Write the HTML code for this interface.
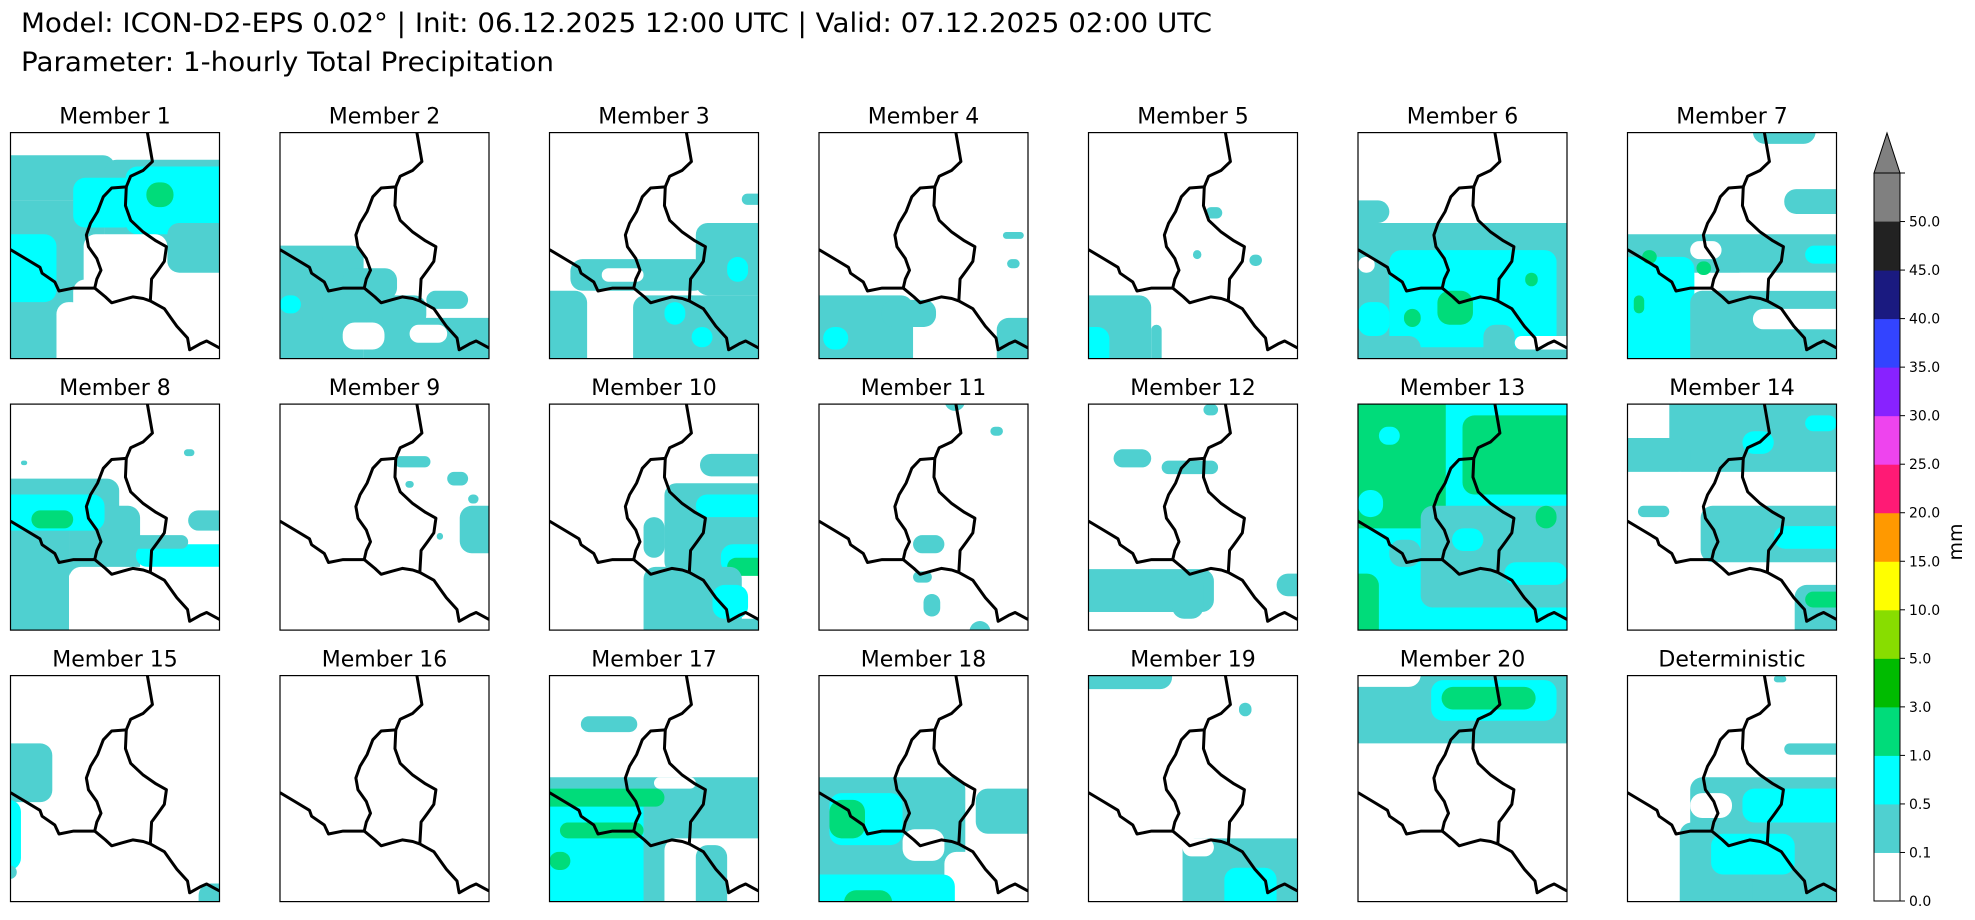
<!DOCTYPE html>
<html><head><meta charset="utf-8"><style>
html,body{margin:0;padding:0;background:#fff;}
svg{display:block;font-family:"DejaVu Sans","Liberation Sans",sans-serif;}
</style></head><body>
<svg id="fig" width="1975" height="920" viewBox="0 0 1975 920" xmlns="http://www.w3.org/2000/svg">
<text x="21" y="32" font-size="27" fill="#000" textLength="1191" lengthAdjust="spacingAndGlyphs">Model: ICON-D2-EPS 0.02° | Init: 06.12.2025 12:00 UTC | Valid: 07.12.2025 02:00 UTC</text>
<text x="21" y="71" font-size="27" fill="#000" textLength="533" lengthAdjust="spacingAndGlyphs">Parameter: 1-hourly Total Precipitation</text>
<g id="panels"></g>
<g id="cbar"></g>
</svg>
<script>
// Colorbar data
const levels = [0.0,0.1,0.5,1.0,3.0,5.0,10.0,15.0,20.0,25.0,30.0,35.0,40.0,45.0,50.0];
const levelColors = ["#ffffff","#4fd0d0","#00ffff","#00dc7a","#00bb00","#88dd00","#ffff00","#ff9900","#ff1a75","#ee44ee","#8822ff","#3344ff","#1a1a80","#222222"];
const overColor = "#808080";
const tickLabels = ["0.0","0.1","0.5","1.0","3.0","5.0","10.0","15.0","20.0","25.0","30.0","35.0","40.0","45.0","50.0"];
// Panel titles
const titles = ["Member 1","Member 2","Member 3","Member 4","Member 5","Member 6","Member 7","Member 8","Member 9","Member 10","Member 11","Member 12","Member 13","Member 14","Member 15","Member 16","Member 17","Member 18","Member 19","Member 20","Deterministic"];
// Precip patches per panel: [x0,y0,x1,y1,levelIndex] (normalized map coords; 0 = dry)
const fields = [
 [[-0.1,0.1,0.5,0.3,1],[-0.1,0.3,0.45,1.1,1],[0.45,0.12,1.1,0.5,1],[0.3,0.2,0.6,0.42,2],[0.55,0.15,1.05,0.45,2],[0.65,0.22,0.78,0.33,3],[-0.05,0.45,0.22,0.75,2],[0.75,0.4,1.1,0.62,1],[0.35,0.45,0.75,0.75,0],[0.3,0.65,1.1,1.1,0],[0.22,0.75,0.35,1.1,0]],
 [[-0.1,0.5,0.4,1.1,1],[0.3,0.6,0.56,0.74,1],[0.2,0.72,0.7,0.86,1],[0.4,0.82,1.1,1.1,1],[0.3,0.84,0.5,0.96,0],[0.62,0.85,0.8,0.93,0],[0.7,0.7,0.9,0.78,1],[0.0,0.72,0.1,0.8,2]],
 [[0.1,0.56,0.75,0.7,1],[0.7,0.4,1.1,0.72,1],[0.4,0.72,1.1,1.1,1],[-0.1,0.7,0.18,1.1,1],[0.85,0.55,0.95,0.66,2],[0.55,0.75,0.65,0.85,2],[0.68,0.86,0.78,0.95,2],[0.92,0.27,1.1,0.32,1],[0.25,0.6,0.45,0.66,0]],
 [[-0.1,0.72,0.45,1.1,1],[0.3,0.74,0.56,0.86,1],[0.85,0.82,1.1,1.1,1],[0.02,0.86,0.14,0.96,2],[0.88,0.44,0.98,0.47,1],[0.9,0.56,0.96,0.6,1],[0.6,0.82,0.85,1.1,0]],
 [[-0.1,0.72,0.3,1.1,1],[0.3,0.85,0.35,1.1,1],[-0.1,0.86,0.1,1.1,2],[0.56,0.33,0.64,0.38,1],[0.5,0.52,0.54,0.56,1],[0.77,0.54,0.83,0.59,1]],
 [[-0.1,0.4,1.1,1.1,1],[0.0,0.55,0.08,0.62,0],[0.15,0.52,0.95,0.95,2],[0.0,0.75,0.15,0.9,2],[0.38,0.7,0.55,0.85,3],[0.22,0.78,0.3,0.86,3],[0.8,0.62,0.86,0.68,3],[0.05,0.9,0.3,1.1,1],[0.6,0.85,0.75,1.1,1],[0.75,0.9,1.1,0.96,0],[-0.1,0.3,0.15,0.4,1]],
 [[0.6,-0.1,0.9,0.05,1],[0.75,0.25,1.1,0.36,1],[-0.1,0.45,1.1,0.62,1],[0.3,0.48,0.45,0.56,0],[-0.1,0.55,0.32,1.1,2],[0.3,0.7,1.1,1.1,1],[0.5,0.62,1.1,0.7,0],[0.6,0.78,1.1,0.87,0],[0.07,0.52,0.14,0.58,3],[0.33,0.57,0.4,0.63,3],[0.03,0.72,0.08,0.8,3],[0.85,0.5,1.1,0.58,2]],
 [[-0.1,0.33,0.52,0.55,1],[-0.1,0.5,0.28,1.1,1],[0.28,0.45,0.62,0.8,1],[-0.05,0.4,0.45,0.56,2],[0.1,0.47,0.3,0.55,3],[0.6,0.62,1.1,0.72,2],[0.85,0.47,1.1,0.56,1],[0.58,0.58,0.85,0.64,1],[0.28,0.72,1.1,1.1,0],[0.05,0.25,0.08,0.27,1],[0.83,0.2,0.88,0.23,1]],
 [[0.55,0.23,0.72,0.28,1],[0.8,0.3,0.9,0.36,1],[0.86,0.45,1.1,0.66,1],[0.6,0.34,0.64,0.37,1],[0.75,0.57,0.78,0.6,1],[0.9,0.4,0.95,0.44,1]],
 [[0.55,0.35,1.1,0.75,1],[0.7,0.4,1.1,0.5,2],[0.82,0.62,1.1,0.75,2],[0.85,0.68,1.1,0.76,3],[0.45,0.72,0.92,1.1,1],[0.78,0.8,0.95,0.95,2],[0.72,0.22,1.1,0.32,1],[0.45,0.5,0.55,0.68,1],[0.8,0.95,1.1,1.1,1]],
 [[0.45,0.58,0.6,0.66,1],[0.45,0.74,0.54,0.79,1],[0.5,0.84,0.58,0.94,1],[0.6,-0.1,0.7,0.03,1],[0.72,0.96,0.82,1.1,1],[0.82,0.1,0.88,0.14,1]],
 [[0.12,0.2,0.3,0.28,1],[0.35,0.25,0.62,0.31,1],[-0.1,0.73,0.6,0.92,1],[0.4,0.75,0.55,0.95,1],[0.9,0.75,1.1,0.85,1],[0.55,0.0,0.62,0.05,1]],
 [[-0.1,-0.1,1.1,1.1,2],[-0.1,-0.1,0.42,0.55,3],[0.1,0.1,0.2,0.18,2],[0.5,0.05,1.1,0.4,3],[0.3,0.45,1.1,0.9,1],[0.45,0.55,0.6,0.65,2],[0.7,0.7,1.0,0.8,2],[-0.1,0.75,0.1,1.1,3],[0.15,0.6,0.3,0.72,1],[0.85,0.45,0.95,0.55,3],[0.0,0.38,0.12,0.5,2]],
 [[0.2,-0.1,1.1,0.3,1],[-0.1,0.15,0.3,0.3,1],[0.55,0.12,0.7,0.22,2],[0.85,0.05,1.0,0.12,2],[0.35,0.45,1.1,0.7,1],[0.7,0.54,1.1,0.64,2],[0.8,0.8,1.1,1.1,1],[0.85,0.83,1.1,0.9,3],[0.05,0.45,0.2,0.5,1]],
 [[-0.1,0.3,0.2,0.56,1],[-0.1,0.55,0.05,0.86,2],[-0.1,0.84,0.03,0.9,1],[0.9,0.92,1.1,1.1,1]],
 [],
 [[-0.1,0.45,1.1,1.1,1],[-0.1,0.5,0.45,1.1,2],[-0.1,0.5,0.55,0.58,3],[0.05,0.65,0.45,0.72,3],[0.0,0.78,0.1,0.86,3],[0.15,0.18,0.42,0.25,1],[0.55,0.72,1.1,1.1,0],[0.7,0.75,0.85,1.1,1],[0.5,0.45,0.7,0.5,0]],
 [[-0.1,0.45,0.7,1.1,1],[0.75,0.5,1.1,0.7,1],[0.05,0.52,0.4,0.75,2],[0.05,0.55,0.22,0.72,3],[0.4,0.68,0.6,0.82,0],[0.6,0.78,1.1,1.1,0],[-0.1,0.88,0.65,1.1,2],[0.12,0.95,0.35,1.1,3]],
 [[-0.1,-0.1,0.4,0.06,1],[0.45,0.72,1.1,1.1,1],[0.65,0.85,0.9,1.1,2],[0.72,0.12,0.78,0.18,1],[0.45,0.72,0.6,0.8,0]],
 [[-0.1,0.0,1.1,0.3,1],[-0.1,-0.1,0.3,0.05,0],[0.35,0.02,0.95,0.2,2],[0.4,0.05,0.85,0.15,3]],
 [[0.3,0.45,1.1,1.1,1],[0.25,0.65,0.6,1.1,1],[0.55,0.5,1.1,0.65,2],[0.4,0.7,0.8,0.88,2],[0.3,0.52,0.5,0.63,0],[0.75,0.3,1.1,0.35,1],[0.7,0.0,0.76,0.03,1]]
];
// Country border outline (normalized map coords), same for all panels
const borders = [
 [[0.655,0.0],[0.679,0.128],[0.635,0.167],[0.575,0.193],[0.554,0.24]],
 [[0.554,0.24],[0.55,0.323],[0.575,0.388],[0.635,0.44],[0.696,0.479],[0.746,0.505],[0.736,0.57],[0.706,0.609],[0.675,0.648],[0.669,0.745]],
 [[0.554,0.24],[0.484,0.245],[0.444,0.284],[0.417,0.349],[0.383,0.401],[0.363,0.453],[0.373,0.505],[0.413,0.557],[0.433,0.609],[0.413,0.648],[0.403,0.688]],
 [[0,0.518],[0.071,0.557],[0.141,0.596],[0.151,0.622],[0.212,0.661],[0.232,0.701],[0.302,0.688],[0.353,0.688],[0.403,0.688]],
 [[0.403,0.688],[0.454,0.727],[0.484,0.753],[0.534,0.74],[0.585,0.727],[0.635,0.734],[0.669,0.745],[0.736,0.779],[0.766,0.818],[0.796,0.857],[0.847,0.909],[0.857,0.961],[0.907,0.935],[0.938,0.922],[1,0.953]]
];

const NS="http://www.w3.org/2000/svg";
const PW=209, PH=226, X0=10.5, DX=269.5, Y0=132.6, DY=271.5;
function mk(t,a,p){const e=document.createElementNS(NS,t);for(const k in a)e.setAttribute(k,a[k]);p.appendChild(e);return e;}
const panelsG=document.getElementById('panels');
titles.forEach((title,i)=>{
  const col=i%7,row=Math.floor(i/7);
  const px=X0+col*DX, py=Y0+row*DY;
  const sx=v=>px+v*PW, sy=v=>py+v*PH;
  const g=mk('g',{},panelsG);
  
  
  const cp=mk('clipPath',{id:'c'+i},g);
  mk('rect',{x:px,y:py,width:PW,height:PH},cp);
  const t=mk('text',{x:px+PW/2,y:py-9,'font-size':22,'text-anchor':'middle',fill:'#000'},g);
  t.textContent=title;
  
  
  const fg=mk('g',{'clip-path':'url(#c'+i+')'},g);
  
  
  fields[i].forEach(f=>{
    const w=(f[2]-f[0])*PW, h=(f[3]-f[1])*PH;
    const rr=Math.min(12,w/2,h/2);
    const r=mk('rect',{x:sx(f[0]),y:sy(f[1]),width:w,height:h,rx:rr,ry:rr,fill:levelColors[f[4]]},fg);
    
    
  });
  borders.forEach(b=>{
    const p=mk('polyline',{points:b.map(q=>sx(q[0])+','+sy(q[1])).join(' '),fill:'none',stroke:'#000','stroke-width':3,'stroke-linejoin':'round'},fg);
    
    
  });
  const fr=mk('rect',{x:px,y:py,width:PW,height:PH,fill:'none',stroke:'#000','stroke-width':1.2},g);
  
  
});
// Colorbar
const cb=document.getElementById('cbar');
const CX=1874, CW=26, CB=901, STEP=(901-173)/15;
const cy=k=>CB-k*STEP;
levelColors.forEach((c,k)=>{
  const r=mk('rect',{x:CX,y:cy(k+1),width:CW,height:STEP+0.5,fill:c},cb);
  
  
});
const ov=mk('rect',{x:CX,y:cy(15),width:CW,height:STEP,fill:overColor},cb);


const tri=mk('polygon',{points:`${CX},${cy(15)} ${CX+CW/2},133 ${CX+CW},${cy(15)}`,fill:overColor,stroke:'#000','stroke-width':1},cb);


mk('polyline',{points:`${CX},${cy(15)} ${CX},${CB} ${CX+CW},${CB} ${CX+CW},${cy(15)}`,fill:'none',stroke:'#000','stroke-width':1},cb);
for(let k=0;k<=15;k++){
  mk('line',{x1:CX+CW,x2:CX+CW+5,y1:cy(k),y2:cy(k),stroke:'#000','stroke-width':1},cb);
  if(k<tickLabels.length){
    const t=mk('text',{x:CX+CW+9,y:cy(k)+5,'font-size':14,fill:'#000'},cb);
    t.textContent=tickLabels[k];
    
    
  }
}
const ml=mk('text',{x:1962,y:542,'font-size':19,'text-anchor':'middle',fill:'#000',transform:'rotate(-90 1962 542)'},cb);
ml.textContent='mm';


</script>
</body></html>
